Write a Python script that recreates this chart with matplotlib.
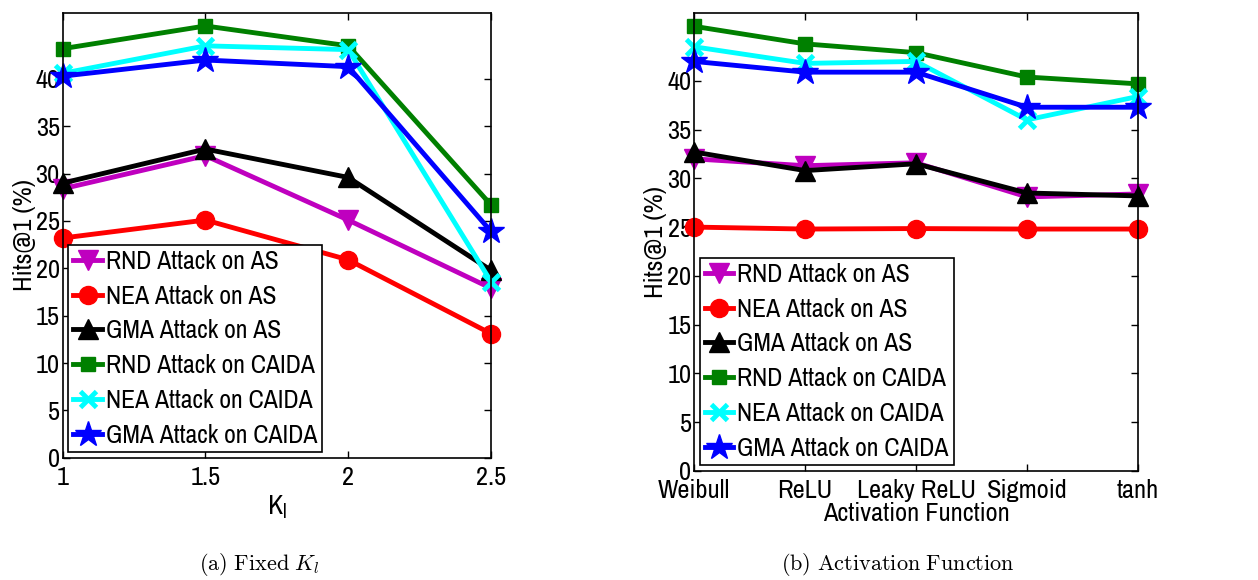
import matplotlib
matplotlib.use("Agg")
import matplotlib.pyplot as plt

# -----------------------------
# data
# -----------------------------
kl_values = [1, 1.5, 2, 2.5]
act_labels = ["Weibull", "ReLU", "Leaky ReLU", "Sigmoid", "tanh"]

series_names = [
    "RND Attack on AS",
    "NEA Attack on AS",
    "GMA Attack on AS",
    "RND Attack on CAIDA",
    "NEA Attack on CAIDA",
    "GMA Attack on CAIDA",
]

# (a) Fixed K_l
kl_rnd_as = [28.4, 31.9, 25.1, 17.9]
kl_nea_as = [23.2, 25.1, 20.9, 13.1]
kl_gma_as = [29.0, 32.6, 29.6, 19.8]
kl_rnd_caida = [43.2, 45.6, 43.5, 26.7]
kl_nea_caida = [40.6, 43.5, 43.1, 18.6]
kl_gma_caida = [40.3, 42.0, 41.3, 23.9]

# (b) Activation function
act_rnd_as = [32.0, 31.3, 31.6, 28.1, 28.4]
act_nea_as = [25.0, 24.8, 24.85, 24.8, 24.8]
act_gma_as = [32.7, 30.8, 31.5, 28.5, 28.2]
act_rnd_caida = [45.6, 43.8, 42.9, 40.4, 39.7]
act_nea_caida = [43.5, 41.8, 42.0, 36.0, 38.4]
act_gma_caida = [42.0, 40.9, 40.9, 37.3, 37.3]

colors = ["#BF00BF", "red", "black", "green", "cyan", "blue"]
markers = ["v", "o", "^", "s", "x", "*"]
msizes = [14, 13, 14, 10, 12, 19]

# narrow sans to mimic the squeezed MATLAB Helvetica
plt.rcParams["font.family"] = ["Archivo Narrow", "Roboto Condensed",
                               "Liberation Sans", "DejaVu Sans"]
plt.rcParams["mathtext.fontset"] = "custom"
plt.rcParams["mathtext.rm"] = "Archivo Narrow"
plt.rcParams["mathtext.it"] = "Archivo Narrow"

fig = plt.figure(figsize=(12.58, 5.80), dpi=100)
ax1 = fig.add_axes([0.0498, 0.2109, 0.3405, 0.7672])
ax2 = fig.add_axes([0.5519, 0.1884, 0.3525, 0.7897])


def draw(ax, x, ys):
    for i, y in enumerate(ys):
        ax.plot(x, y, color=colors[i], marker=markers[i], markersize=msizes[i],
                linewidth=3.5, markeredgewidth=3.5 if markers[i] == "x" else 1,
                markeredgecolor=colors[i], label=series_names[i], clip_on=False)
    ax.set_ylim(0, 47)
    ax.set_yticks(range(0, 41, 5))
    ax.tick_params(direction="in", top=True, right=True, labelsize=19,
                   length=5, width=1)
    ax.tick_params(axis="y", pad=2)
    ax.tick_params(axis="x", pad=6)
    for s in ax.spines.values():
        s.set_linewidth(1.2)
    ax.set_ylabel("Hits@1 (%)", fontsize=19, labelpad=0)
    leg = ax.legend(loc="lower left", fontsize=18.5,
                    handlelength=1.1, handletextpad=0.15, borderpad=0.2,
                    labelspacing=0.46, borderaxespad=0.22, fancybox=False,
                    framealpha=1, edgecolor="black")
    leg.get_frame().set_linewidth(1.2)


draw(ax1, kl_values,
     [kl_rnd_as, kl_nea_as, kl_gma_as, kl_rnd_caida, kl_nea_caida, kl_gma_caida])
ax1.set_xlim(1, 2.5)
ax1.set_xticks(kl_values)
ax1.set_xticklabels(["1", "1.5", "2", "2.5"])
ax1.set_xlabel(r"K$_\mathrm{l}$", fontsize=20, labelpad=3)

act_x = list(range(len(act_labels)))
draw(ax2, act_x,
     [act_rnd_as, act_nea_as, act_gma_as, act_rnd_caida, act_nea_caida, act_gma_caida])
ax2.set_xlim(0, 4)
ax2.set_xticks(act_x)
ax2.set_xticklabels(act_labels)
ax2.set_xlabel("Activation Function", fontsize=19, labelpad=0)

# sub-captions in Computer Modern
fig.text(0.206, 0.026, r"$\mathrm{(a)\ Fixed}\ K_l$", fontsize=16,
         ha="center", va="center", math_fontfamily="cm")
fig.text(0.714, 0.026, r"$\mathrm{(b)\ Activation\ Function}$", fontsize=16,
         ha="center", va="center", math_fontfamily="cm")

fig.savefig("out.png", dpi=100)
